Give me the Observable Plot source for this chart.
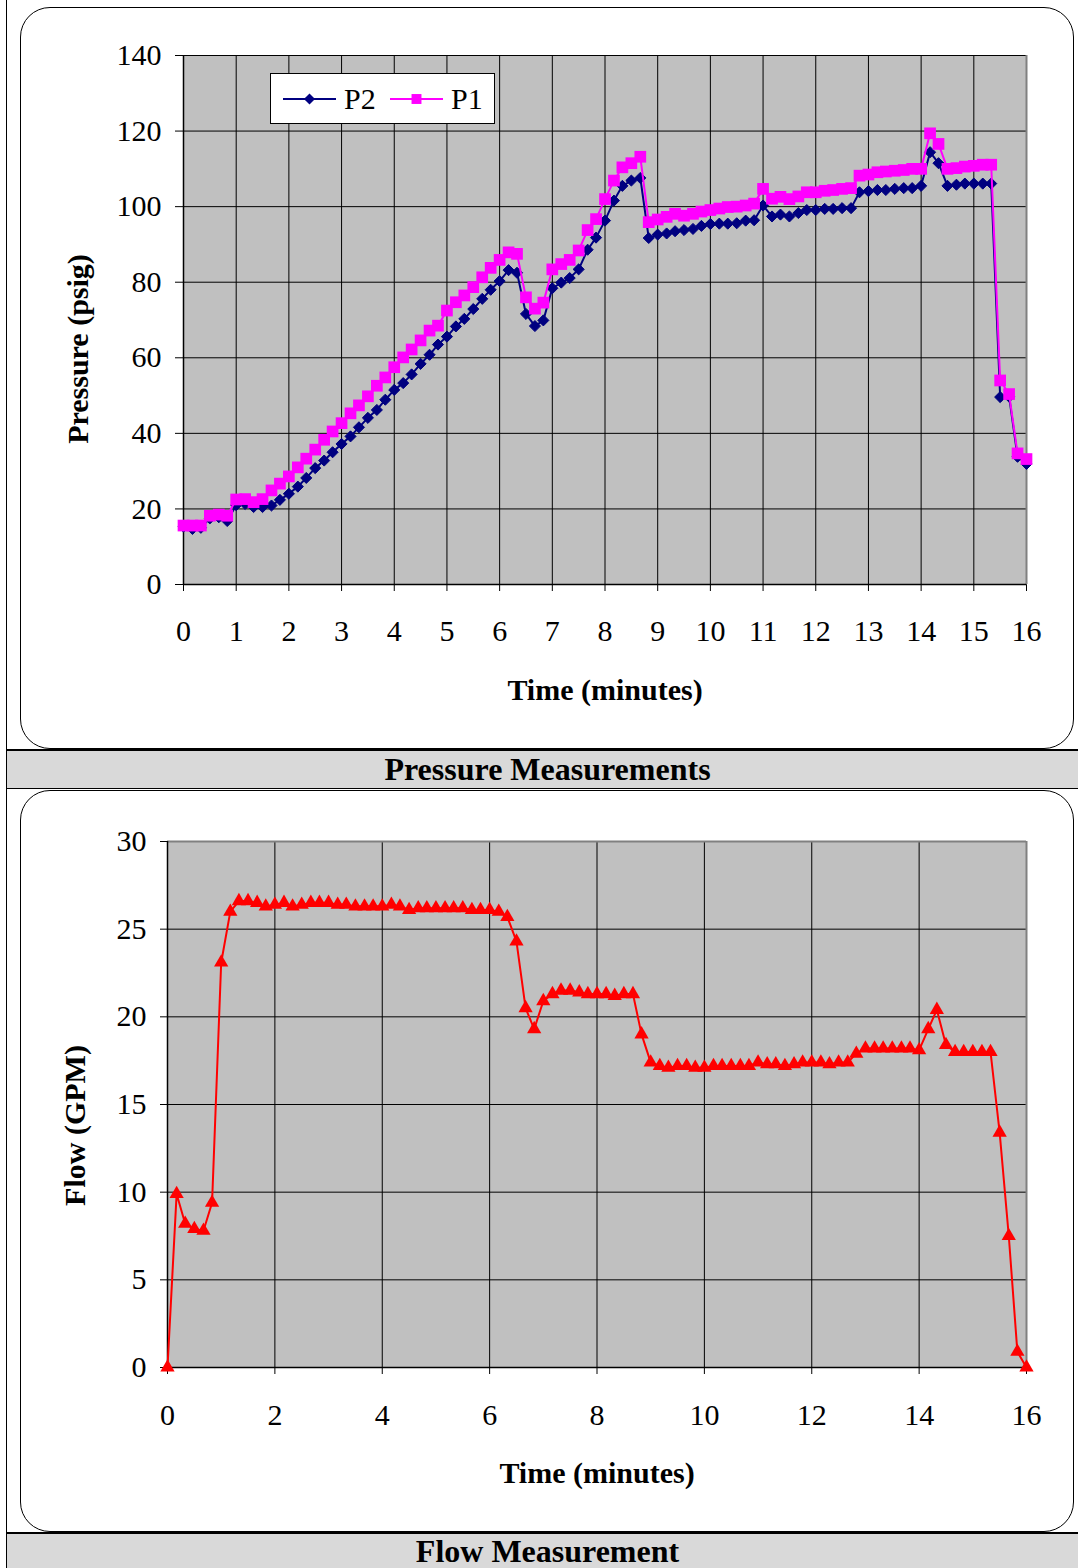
<!DOCTYPE html>
<html><head><meta charset="utf-8">
<script src="https://cdn.jsdelivr.net/npm/d3@7"></script>
<script src="https://cdn.jsdelivr.net/npm/@observablehq/plot@0.6"></script>
<style>
html,body{margin:0;padding:0;background:#fff;}
#page{position:relative;width:1078px;height:1568px;overflow:hidden;background:#fff;font-family:'Liberation Serif','Times New Roman',serif;}
.abs{position:absolute;}
.box{position:absolute;border:1.5px solid #000;border-radius:30px;box-sizing:border-box;z-index:3;pointer-events:none;}
.cap{position:absolute;left:7px;right:0;background:#d9d9d9;border-top:2px solid #000;border-bottom:1px solid #000;font-weight:bold;font-size:32px;text-align:center;color:#000;box-sizing:border-box;padding-left:10px;}
#legend{position:absolute;left:270px;top:73px;width:225px;height:51px;border:1px solid #000;background:#fff;box-sizing:border-box;z-index:4;}
</style></head>
<body><div id="page">
 <div class="abs" style="left:6px;top:0;width:1px;height:1568px;background:#000"></div>
 <div id="chart1" class="abs" style="left:0;top:0"></div>
 <div class="box" style="left:20px;top:7px;width:1054px;height:742px"></div>
 <div id="legend"></div>
 <div class="cap" style="top:749px;height:40px;line-height:37px;">Pressure Measurements</div>
 <div id="chart2" class="abs" style="left:0;top:790px"></div>
 <div class="box" style="left:20px;top:790px;width:1054px;height:742px"></div>
 <div class="cap" style="top:1532px;height:36px;line-height:34px;border-bottom:none;">Flow Measurement</div>
</div>
<script>
// ---- data (time in minutes, 10-second samples) ----
const timeMin = [0,0.17,0.33,0.5,0.67,0.83, 1,1.17,1.33,1.5,1.67,1.83, 2,2.17,2.33,2.5,2.67,2.83,
  3,3.17,3.33,3.5,3.67,3.83, 4,4.17,4.33,4.5,4.67,4.83, 5,5.17,5.33,5.5,5.67,5.83,
  6,6.17,6.33,6.5,6.67,6.83, 7,7.17,7.33,7.5,7.67,7.83, 8,8.17,8.33,8.5,8.67,8.83,
  9,9.17,9.33,9.5,9.67,9.83, 10,10.17,10.33,10.5,10.67,10.83, 11,11.17,11.33,11.5,11.67,11.83,
  12,12.17,12.33,12.5,12.67,12.83, 13,13.17,13.33,13.5,13.67,13.83, 14,14.17,14.33,14.5,14.67,14.83,
  15,15.17,15.33,15.5,15.67,15.83, 16];

const p1Psig = [15.6,15.6,15.6,18.2,18.5,18.2, 22.5,22.6,21.8,22.6,24.9,26.7, 28.6,31.0,33.3,35.7,38.3,40.5,
  42.7,45.3,47.4,49.8,52.6,54.8, 57.5,60.1,62.2,64.6,67.2,68.5, 72.5,74.7,76.5,78.7,81.3,83.8,
  85.9,87.9,87.5,76.0,73.0,74.6, 83.4,84.8,85.9,88.4,93.8,96.7, 102.0,106.9,110.4,111.5,113.2,95.9,
  96.6,97.3,98.1,97.6,98.1,98.7, 99.1,99.5,99.9,100.0,100.3,100.8, 104.7,102.1,102.6,102.0,102.7,103.8,
  103.8,104.2,104.4,104.7,104.9,108.2, 108.5,109.1,109.3,109.5,109.7,110.0, 110.0,119.4,116.6,110.0,110.2,110.6,
  110.8,111.1,111.1,54.0,50.4,34.7, 33.2];

const p2Psig = [15.3,14.7,15.0,17.5,17.8,16.8, 21.0,21.3,20.5,20.5,20.9,22.4, 24.0,25.9,28.2,30.8,32.8,35.0,
  37.2,39.2,41.6,44.1,46.2,48.9, 51.5,53.3,55.6,58.4,60.8,63.5, 65.6,68.3,70.3,72.9,75.6,78.0,
  80.3,83.2,82.5,71.6,68.4,69.9, 78.4,79.9,81.1,83.4,88.6,91.8, 96.3,101.6,105.5,106.9,107.6,91.7,
  92.6,92.9,93.5,93.8,94.1,94.9, 95.4,95.5,95.5,95.6,96.3,96.4, 100.3,97.4,97.9,97.4,98.3,99.1,
  99.1,99.4,99.4,99.6,99.6,103.8, 104.1,104.4,104.4,104.7,104.9,104.9, 105.5,114.4,111.5,105.5,105.8,106.1,
  106.1,106.1,106.1,49.6,49.7,33.8, 31.9];

const flowGpm = [0,9.9,8.2,7.9,7.8,9.4, 23.1,26.0,26.6,26.6,26.5,26.3, 26.4,26.5,26.3,26.4,26.5,26.5,
  26.5,26.4,26.4,26.3,26.3,26.3, 26.3,26.4,26.3,26.1,26.2,26.2, 26.2,26.2,26.2,26.2,26.1,26.1,
  26.1,26.0,25.7,24.3,20.5,19.3, 20.9,21.3,21.5,21.5,21.4,21.3, 21.3,21.3,21.2,21.3,21.3,19.0,
  17.4,17.2,17.1,17.2,17.2,17.1, 17.1,17.2,17.2,17.2,17.2,17.2, 17.4,17.3,17.3,17.2,17.3,17.4,
  17.4,17.4,17.3,17.4,17.4,17.9, 18.2,18.2,18.2,18.2,18.2,18.2, 18.1,19.3,20.4,18.4,18.0,18.0,
  18.0,18.0,18.0,13.4,7.5,0.9, 0];

const xTicksP = [0,1,2,3,4,5,6,7,8,9,10,11,12,13,14,15,16];
const yTicksP = [0,20,40,60,80,100,120,140];
const xTicksF = [0,2,4,6,8,10,12,14,16];
const yTicksF = [0,5,10,15,20,25,30];
const xDomain = [0,16];
const yDomainP = [0,140];
const yDomainF = [0,30];
const seriesNames = ["P2","P1"];

const rows = timeMin.map((t,i)=>({t, p1:p1Psig[i], p2:p2Psig[i], flow:flowGpm[i]}));

const FONT = "'Liberation Serif','Times New Roman',serif";
const GRAY = "#c0c0c0", NAVY = "#000080", MAG = "#ff00ff", RED = "#ff0000";
const R_DIA = 5.0, R_SQ = 6.6, R_TRI = 5.3;

const chart1 = Plot.plot({
  width: 1078, height: 748,
  marginLeft: 183, marginRight: 52, marginTop: 55, marginBottom: 164,
  style: {background: "transparent", fontFamily: FONT, fontSize: "30px", color: "#000", overflow: "visible"},
  x: {domain: xDomain, ticks: xTicksP, tickSize: 7, tickPadding: 28, label: null, tickFormat: d=>String(d)},
  y: {domain: yDomainP, ticks: yTicksP, tickSize: 8, tickPadding: 14, label: null, tickFormat: d=>String(d)},
  marks: [
    Plot.frame({fill: GRAY, stroke: null}),
    Plot.ruleX(xTicksP, {stroke: "#000", strokeWidth: 1}),
    Plot.ruleY(yTicksP, {stroke: "#000", strokeWidth: 1}),
    Plot.ruleX([xDomain[1]], {stroke: "#808080", strokeWidth: 2}),
    Plot.ruleX([xDomain[0]], {stroke: "#000", strokeWidth: 1.5}),
    Plot.ruleY([yDomainP[0]], {stroke: "#000", strokeWidth: 1.5}),
    Plot.line(rows, {x: "t", y: "p2", stroke: NAVY, strokeWidth: 2}),
    Plot.dot(rows, {x: "t", y: "p2", symbol: "diamond2", r: R_DIA, fill: NAVY, stroke: NAVY, strokeWidth: 1}),
    Plot.line(rows, {x: "t", y: "p1", stroke: MAG, strokeWidth: 2}),
    Plot.dot(rows, {x: "t", y: "p1", symbol: "square", r: R_SQ, fill: MAG, stroke: null}),
    Plot.text(["Pressure (psig)"], {text: d=>d, frameAnchor: "left", textAnchor: "middle", lineAnchor: "middle", rotate: -90, dx: -105, dy: 29, fontSize: 30, fontWeight: "bold", fill: "#000"}),
    Plot.text(["Time (minutes)"], {text: d=>d, frameAnchor: "bottom", textAnchor: "middle", lineAnchor: "middle", dy: 106, fontSize: 30, fontWeight: "bold", fill: "#000"})
  ]
});
document.getElementById("chart1").appendChild(chart1);

const chart2 = Plot.plot({
  width: 1078, height: 741,
  marginLeft: 167, marginRight: 52, marginTop: 51, marginBottom: 164,
  style: {background: "transparent", fontFamily: FONT, fontSize: "30px", color: "#000", overflow: "visible"},
  x: {domain: xDomain, ticks: xTicksF, tickSize: 7, tickPadding: 29, label: null, tickFormat: d=>String(d)},
  y: {domain: yDomainF, ticks: yTicksF, tickSize: 7, tickPadding: 14, label: null, tickFormat: d=>String(d)},
  marks: [
    Plot.frame({fill: GRAY, stroke: null}),
    Plot.ruleX(xTicksF, {stroke: "#000", strokeWidth: 1}),
    Plot.ruleY(yTicksF, {stroke: "#000", strokeWidth: 1}),
    Plot.ruleX([xDomain[1]], {stroke: "#808080", strokeWidth: 2}),
    Plot.ruleY([yDomainF[1]], {stroke: "#808080", strokeWidth: 2}),
    Plot.ruleX([xDomain[0]], {stroke: "#000", strokeWidth: 1.5}),
    Plot.ruleY([yDomainF[0]], {stroke: "#000", strokeWidth: 1.5}),
    Plot.line(rows, {x: "t", y: "flow", stroke: RED, strokeWidth: 2}),
    Plot.dot(rows, {x: "t", y: "flow", symbol: "triangle", r: R_TRI, fill: RED, stroke: null}),
    Plot.text(["Flow (GPM)"], {text: d=>d, frameAnchor: "left", textAnchor: "middle", lineAnchor: "middle", rotate: -90, dx: -92, dy: 21, fontSize: 30, fontWeight: "bold", fill: "#000"}),
    Plot.text(["Time (minutes)"], {text: d=>d, frameAnchor: "bottom", textAnchor: "middle", lineAnchor: "middle", dy: 106, fontSize: 30, fontWeight: "bold", fill: "#000"})
  ]
});
document.getElementById("chart2").appendChild(chart2);

// ---- legend ----
const lg = d3.select("#legend").append("svg").attr("width", 223).attr("height", 49)
  .style("font-family", FONT);
const legendItems = [
  {name: seriesNames[0], color: NAVY, sym: d3.symbolDiamond2, size: Math.PI*R_DIA*R_DIA, x0: 12},
  {name: seriesNames[1], color: MAG, sym: d3.symbolSquare, size: Math.PI*5.6*5.6, x0: 119}
];
legendItems.forEach(it => {
  lg.append("line").attr("x1", it.x0).attr("x2", it.x0+53).attr("y1", 25).attr("y2", 25)
    .attr("stroke", it.color).attr("stroke-width", 2);
  lg.append("path").attr("d", d3.symbol(it.sym, it.size)()).attr("transform", `translate(${it.x0+26.5},25)`)
    .attr("fill", it.color);
  lg.append("text").attr("x", it.x0+61).attr("y", 35).attr("font-size", 30).attr("fill", "#000").text(it.name);
});
</script>
</body></html>
